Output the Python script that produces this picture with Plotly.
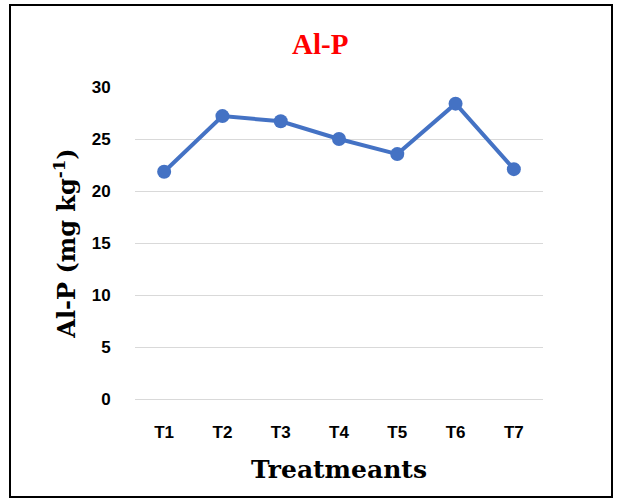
import plotly.graph_objects as go

categories = ["T1", "T2", "T3", "T4", "T5", "T6", "T7"]
al_p = [21.85, 27.2, 26.7, 25.0, 23.55, 28.4, 22.1]
y_ticks = [0, 5, 10, 15, 20, 25, 30]

fig = go.Figure()
fig.add_trace(go.Scatter(
    x=categories, y=al_p, mode="lines+markers",
    line=dict(color="#4472C4", width=4),
    marker=dict(color="#4472C4", size=14),
    showlegend=False,
))

L, R, T, B = 135, 86, 87, 101
W, H = 629, 500
pw, ph = W - L - R, H - T - B

def px_x(x):
    return (x - L) / pw

def px_y(y):
    return (H - B - y) / ph

tick_font = dict(family="Liberation Sans", size=17, color="black", weight="bold")

fig.update_layout(
    width=W, height=H,
    margin=dict(l=L, r=R, t=T, b=B),
    paper_bgcolor="white", plot_bgcolor="white",
    xaxis=dict(
        showgrid=False, showline=False, zeroline=False,
        ticks="outside", ticklen=18, tickcolor="rgba(0,0,0,0)",
        tickfont=tick_font,
        title=dict(text="Treatmeants", standoff=19,
                   font=dict(family="DejaVu Serif", size=25, color="black", weight="bold")),
    ),
    yaxis=dict(
        range=[0, 30], tickvals=y_ticks,
        showgrid=True, gridcolor="#d9d9d9", gridwidth=1,
        zeroline=True, zerolinecolor="#d9d9d9", zerolinewidth=1,
        showline=False,
        ticks="outside", ticklen=20, tickcolor="rgba(0,0,0,0)",
        tickfont=tick_font,
        title=dict(text="Al-P (mg kg<sup>-1</sup>)", standoff=9,
                   font=dict(family="DejaVu Serif", size=24, color="black", weight="bold")),
    ),
    shapes=[dict(
        type="rect", xref="paper", yref="paper",
        x0=px_x(10), x1=px_x(612), y0=px_y(497), y1=px_y(5),
        line=dict(color="black", width=2), fillcolor="rgba(0,0,0,0)", layer="below",
    )],
    annotations=[dict(
        text="Al-P", xref="paper", yref="paper",
        x=px_x(320), y=px_y(44), xanchor="center", yanchor="middle",
        showarrow=False,
        font=dict(family="Liberation Serif", size=29, color="red", weight="bold"),
    )],
)

fig.write_html("out.html", config={"displayModeBar": False},
               post_script="document.body.style.margin='0';")
